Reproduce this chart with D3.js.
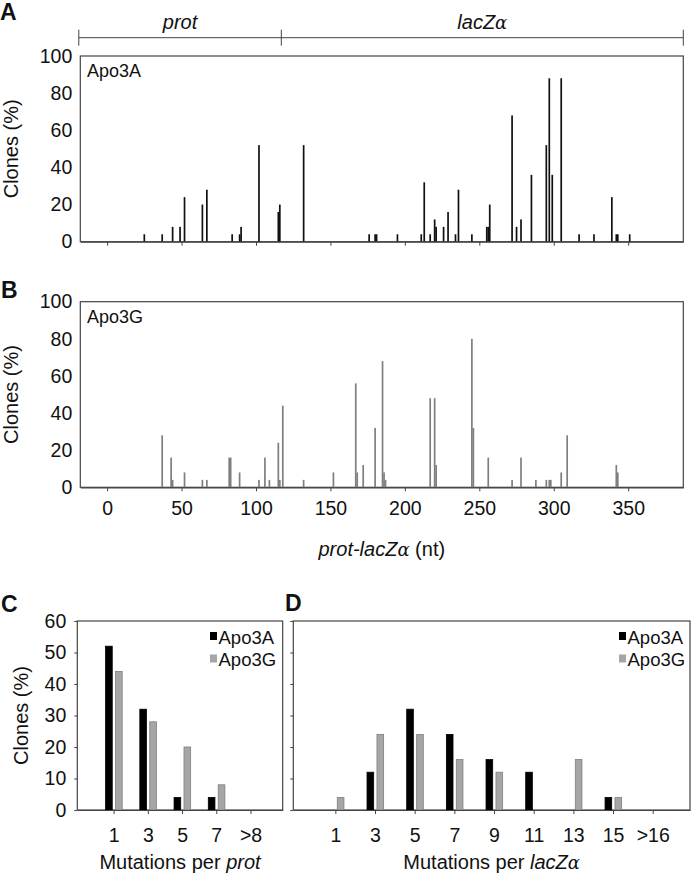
<!DOCTYPE html>
<html><head><meta charset="utf-8">
<script src="https://cdn.jsdelivr.net/npm/d3@7"></script>
<style>body{margin:0;background:#fff} text{font-family:"Liberation Sans",Arial,sans-serif;fill:#111}</style>
</head><body><svg id="c" width="693" height="883"></svg>
<script>
// ---- data ----
const posA=[25,37,44,49,52,64,67,84,89,90,102,115,116,132,176,180,181,195,211,213,217,220,221,226,229,234,236,245,255,256,257,272,275,278,285,295,297,299,305,317,327,339,342,343,351];
const valA=[4,4,8,8,24,20,28,4,4,8,52,16,20,52,4,4,4,4,4,32,4,12,8,8,16,4,28,4,8,8,20,68,8,12,36,52,88,36,88,4,4,24,4,4,4];
const posG=[37,43,44,52,64,67,82,83,89,102,106,109,115,116,118,132,152,167,168,172,180,185,186,187,217,220,221,245,246,256,272,278,288,295,297,298,305,309,342,343];
const valG=[28,16,4,8,4,4,16,16,8,4,16,4,24,4,44,4,8,56,8,12,32,68,8,4,48,48,12,80,32,16,4,16,4,4,4,4,8,28,12,8];
const ntTicks=[0,50,100,150,200,250,300,350];
const pctTicksTop=[0,20,40,60,80,100];
const regions=[{name:"prot",from:-19,to:117},{name:"lacZ",from:117,to:387}];
const catsC=["1","3","5","7",">8"];
const cA=[52,32,4,4,0];
const cG=[44,28,20,8,0];
const catsD=["1","3","5","7","9","11","13","15",">16"];
const dA=[0,12,32,24,16,12,0,4,0];
const dG=[4,24,24,16,12,0,16,4,0];
const pctTicksBot=[0,10,20,30,40,50,60];
const seriesNames=["Apo3A","Apo3G"];
const colFill={"Apo3A":"#000","Apo3G":"#a6a6a6"};
const colStroke={"Apo3A":"#000","Apo3G":"#7f7f7f"};

const svg=d3.select("#c");
const FS=19.5, TS=20;
const boxCol="#444";

// ---- top panels ----
const x=d3.scaleLinear().domain([-18,387]).range([80.3,683.3]);
function topPanel(y0,y1,pos,val,color,label,showXLabels){
  const y=d3.scaleLinear().domain([0,100]).range([y1,y0]);
  const g=svg.append("g");
  g.append("rect").attr("x",x.range()[0]).attr("y",y0).attr("width",x.range()[1]-x.range()[0]).attr("height",y1-y0)
   .attr("fill","none").attr("stroke",boxCol).attr("stroke-width",1.2);
  const w=1.7;
  g.selectAll(".b").data(pos.map((p,i)=>({p,v:val[i]}))).join("rect")
   .attr("x",d=>x(d.p)-w/2).attr("width",w).attr("y",d=>y(d.v)).attr("height",d=>y(0)-y(d.v)).attr("fill",color);
  const ax=d3.axisBottom(x).tickValues(ntTicks).tickSize(4).tickSizeOuter(0).tickFormat(showXLabels?d3.format("d"):"");
  const ga=g.append("g").attr("transform",`translate(0,${y1})`).call(ax);
  ga.select(".domain").attr("stroke",boxCol).attr("stroke-width",1.2);
  ga.selectAll(".tick line").attr("stroke",boxCol);
  ga.selectAll("text").attr("font-size",FS).attr("dy","1.05em").attr("fill","#111");
  const ay=d3.axisLeft(y).tickValues(pctTicksTop).tickSize(0).tickPadding(8);
  const gy=g.append("g").attr("transform",`translate(${x.range()[0]},0)`).call(ay);
  gy.select(".domain").remove();
  gy.selectAll("text").attr("font-size",FS).attr("fill","#111");
  g.append("text").attr("x",87).attr("y",y0+21).attr("font-size",18).text(label);
  g.append("text").attr("transform",`translate(18,${(y0+y1)/2}) rotate(-90)`).attr("text-anchor","middle").attr("font-size",TS).text("Clones (%)");
  return y;
}
topPanel(56,241.7,posA,valA,"#111","Apo3A",false);
topPanel(301.7,487.3,posG,valG,"#7f7f7f","Apo3G",true);

// region bracket
const by=37.7;
svg.append("line").attr("x1",x(regions[0].from)).attr("x2",x(regions[regions.length-1].to)).attr("y1",by).attr("y2",by).attr("stroke","#444").attr("stroke-width",1);
const bounds=[regions[0].from].concat(regions.map(r=>r.to));
svg.selectAll(".bt").data(bounds).join("line").attr("x1",d=>x(d)).attr("x2",d=>x(d)).attr("y1",by-8).attr("y2",by+8).attr("stroke","#444").attr("stroke-width",1);
svg.append("text").attr("x",x((regions[0].from+regions[0].to)/2)).attr("y",29).attr("text-anchor","middle").attr("font-size",TS).attr("font-style","italic").text("prot");
const lt=svg.append("text").attr("x",x((regions[1].from+regions[1].to)/2)).attr("y",29).attr("text-anchor","middle").attr("font-size",TS).attr("font-style","italic");
lt.append("tspan").text("lacZ");
lt.append("tspan").attr("font-family","DejaVu Serif").attr("font-size",18).text("α");
const xt=svg.append("text").attr("x",(x.range()[0]+x.range()[1])/2).attr("y",556).attr("text-anchor","middle").attr("font-size",TS);
xt.append("tspan").attr("font-style","italic").text("prot-lacZ");
xt.append("tspan").attr("font-style","italic").attr("font-family","DejaVu Serif").attr("font-size",18).text("α");
xt.append("tspan").text(" (nt)");

[["A",0,20],["B",1,298],["C",1,612],["D",285,611]].forEach(([t,px,py])=>{
  svg.append("text").attr("x",px).attr("y",py).attr("font-size",23).attr("font-weight","bold").text(t);
});

// ---- bottom panels ----
function barPanel(xl,xr,cats,aVals,gVals,showY,legX,titleParts){
  const y0=621,y1=810;
  const y=d3.scaleLinear().domain([0,60]).range([y1,y0]);
  const xb=d3.scalePoint().domain(cats).range([xl,xr]).padding(1).align(0.53);
  const xs=d3.scaleBand().domain(seriesNames).range([-8,8.6]).paddingInner(0.33);
  const g=svg.append("g");
  g.append("rect").attr("x",xl).attr("y",y0).attr("width",xr-xl).attr("height",y1-y0).attr("fill","none").attr("stroke",boxCol).attr("stroke-width",1.2);
  const data=[];
  cats.forEach((c,i)=>{data.push({c,s:"Apo3A",v:aVals[i]});data.push({c,s:"Apo3G",v:gVals[i]});});
  g.selectAll(".bar").data(data.filter(d=>d.v>0)).join("rect")
   .attr("x",d=>xb(d.c)+xs(d.s)).attr("width",xs.bandwidth()).attr("y",d=>y(d.v)).attr("height",d=>y(0)-y(d.v))
   .attr("fill",d=>colFill[d.s]).attr("stroke",d=>colStroke[d.s]).attr("stroke-width",0.8);
  const ax=d3.axisBottom(xb).tickSize(4).tickSizeOuter(0).tickPadding(8);
  const ga=g.append("g").attr("transform",`translate(0,${y1})`).call(ax);
  ga.select(".domain").attr("stroke",boxCol).attr("stroke-width",1.2);
  ga.selectAll(".tick line").attr("stroke",boxCol);
  ga.selectAll("text").attr("font-size",FS).attr("fill","#111").attr("dy","1.05em");
  const ay=d3.axisLeft(y).tickValues(pctTicksBot).tickSize(3).tickSizeOuter(0).tickPadding(8).tickFormat(showY?d3.format("d"):"");
  const gy=g.append("g").attr("transform",`translate(${xl},0)`).call(ay);
  gy.select(".domain").remove();
  gy.selectAll(".tick line").attr("stroke",boxCol);
  gy.selectAll("text").attr("font-size",FS).attr("fill","#111");
  if(showY){
    g.append("text").attr("transform",`translate(28,${(y0+y1)/2}) rotate(-90)`).attr("text-anchor","middle").attr("font-size",TS).text("Clones (%)");
  }
  seriesNames.forEach((s,i)=>{
    g.append("rect").attr("x",legX).attr("y",632+i*22.5).attr("width",7).attr("height",8).attr("fill",colFill[s]);
    g.append("text").attr("x",legX+8.5).attr("y",643.5+i*22.5).attr("font-size",18.5).text(s);
  });
  const t=g.append("text").attr("x",(xl+xr)/2).attr("y",869).attr("text-anchor","middle").attr("font-size",TS);
  titleParts.forEach(p=>{const ts=t.append("tspan").text(p.t); if(p.i) ts.attr("font-style","italic"); if(p.a) ts.attr("font-family","DejaVu Serif").attr("font-size",18);});
}
barPanel(77.3,282.7,catsC,cA,cG,true,210,[{t:"Mutations per "},{t:"prot",i:true}]);
barPanel(293.3,690,catsD,dA,dG,false,619,[{t:"Mutations per "},{t:"lacZ",i:true},{t:"α",i:true,a:true}]);
</script></body></html>
